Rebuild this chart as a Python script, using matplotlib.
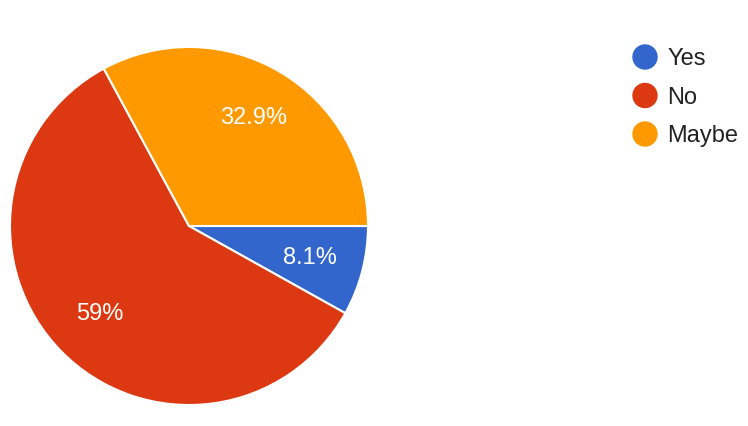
import matplotlib.pyplot as plt
from matplotlib.patches import Circle

labels = ['Yes', 'No', 'Maybe']
values = [8.1, 59.0, 32.9]
colors = ['#3366cc', '#dc3912', '#ff9900']

W, H = 748, 426
fig = plt.figure(figsize=(W / 100, H / 100), dpi=100)
plt.rcParams['font.family'] = ['Liberation Sans', 'DejaVu Sans']

# pie centre (189, 226) px, radius 179 px
cx, cy, r = 189, 226, 179
ax = fig.add_axes([(cx - r) / W, (H - cy - r) / H, 2 * r / W, 2 * r / H])


def fmt(p):
    s = f'{p:.1f}'
    if s.endswith('.0'):
        s = s[:-2]
    return s + '%'


wedges, texts, autotexts = ax.pie(
    values, colors=colors, startangle=0, counterclock=False,
    autopct=fmt, pctdistance=0.7, radius=1,
    wedgeprops=dict(edgecolor='white', linewidth=1.5),
    textprops=dict(color='white', fontsize=17))
ax.set_xlim(-1, 1)
ax.set_ylim(-1, 1)
ax.set_aspect('equal')
ax.axis('off')

# Legend drawn by hand, rows 38.5 px apart
for i, (lab, col) in enumerate(zip(labels, colors)):
    y = 57 + i * 38.5
    fig.add_artist(Circle((645 / 100, (H - y) / 100), 0.12,
                          transform=fig.dpi_scale_trans, color=col))
    fig.text(667 / W, (H - y - 2) / H, lab, fontsize=17, color='#222222',
             va='center', ha='left')

fig.savefig('out.png', dpi=100)
